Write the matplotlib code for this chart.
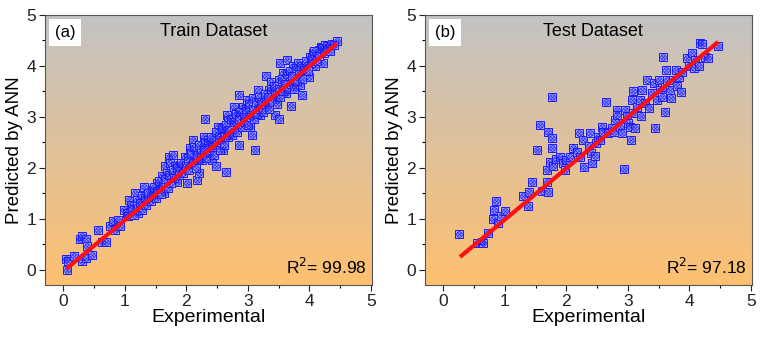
import numpy as np
import matplotlib
matplotlib.use('Agg')
import matplotlib.pyplot as plt
from matplotlib.ticker import MultipleLocator
from matplotlib.colors import LinearSegmentedColormap

plt.rcParams['font.family'] = ['Liberation Sans', 'DejaVu Sans']

# train set: experimental vs predicted
train_exp = [0.05, 0.04, 0.08, 0.17, 0.27, 0.30, 0.37, 0.31, 0.36, 0.39, 0.46, 0.57, 0.62, 0.70,
             0.76, 0.80, 0.84, 0.88, 0.92, 0.98, 1.03, 1.06, 1.10, 1.13, 1.17, 1.19, 1.22, 1.27,
             1.31, 1.36, 1.41, 1.46, 1.52, 1.56, 1.60, 1.63, 1.65, 1.68, 1.71, 1.74, 1.78, 1.81,
             1.84, 1.87, 1.90, 1.94, 1.98, 2.01, 2.03, 2.06, 2.09, 2.11, 2.14, 2.17, 2.20, 2.22,
             2.25, 2.28, 2.30, 2.33, 2.36, 2.39, 2.41, 2.45, 2.49, 2.64, 2.52, 2.55, 2.58, 2.60,
             2.63, 2.66, 2.68, 2.71, 2.74, 2.77, 2.79, 2.82, 2.85, 2.86, 2.88, 2.92, 2.94, 2.98,
             3.01, 3.04, 3.07, 3.12, 3.09, 3.15, 3.17, 3.20, 3.25, 3.30, 3.31, 3.34, 3.37, 3.41,
             3.44, 3.48, 3.51, 3.50, 3.52, 3.55, 3.58, 3.62, 3.64, 3.68, 3.71, 3.74, 3.77, 3.80,
             3.82, 3.85, 3.88, 3.90, 3.95, 3.99, 4.01, 4.06, 4.09, 4.15, 4.19, 4.23, 4.26, 4.31,
             4.37, 4.45,
             1.05, 1.12, 1.15, 1.20, 1.25, 1.28, 1.32, 1.35, 1.38, 1.42, 1.45, 1.48, 1.50, 1.53,
             1.55, 1.58, 1.62, 1.65, 1.70, 1.72, 1.75, 1.78, 1.80, 1.85, 1.88, 1.92, 1.95, 2.00,
             2.02, 2.05, 2.08, 2.10, 2.13, 2.15, 2.18, 2.20, 2.23, 2.25, 2.28, 2.30, 2.32, 2.35,
             2.38, 2.40, 2.43, 2.45, 2.48, 2.50, 2.53, 2.55, 2.58, 2.60, 2.62, 2.65, 2.68, 2.70,
             2.72, 2.75, 2.78, 2.80, 2.83, 2.85, 2.88, 2.90, 2.93, 2.95, 2.97, 3.00, 3.02, 3.05,
             3.08, 3.10, 3.13, 3.15, 3.18, 3.20, 3.22, 3.25, 3.28, 3.30, 3.33, 3.35, 3.38, 3.40,
             3.42, 3.45, 3.47, 3.50, 3.53, 3.55, 3.57, 3.60, 3.63, 3.65, 3.68, 3.70, 3.72, 3.75,
             3.78, 3.80, 3.83, 3.86, 3.88, 3.92, 3.95, 3.98, 4.02, 4.05, 4.08, 4.12, 4.16, 4.20,
             4.24, 4.28, 4.33, 4.40]
train_pred = [0.00, 0.21, 0.17, 0.26, 0.60, 0.67, 0.60, 0.18, 0.23, 0.47, 0.29, 0.78, 0.54, 0.54,
              0.85, 0.95, 0.78, 0.98, 0.85, 1.18, 1.11, 1.37, 1.27, 1.14, 1.50, 1.37, 1.11, 1.44,
              1.63, 1.37, 1.50, 1.57, 1.70, 1.63, 1.83, 1.50, 2.03, 1.90, 2.22, 2.09, 2.25, 2.03,
              1.73, 1.90, 2.06, 1.96, 2.22, 1.70, 2.03, 2.39, 2.16, 2.55, 2.29, 1.76, 1.90, 2.16,
              2.42, 2.61, 2.95, 2.29, 2.42, 2.48, 2.16, 2.61, 2.03, 1.92, 2.81, 2.55, 2.68, 2.35,
              2.75, 3.04, 2.94, 2.65, 2.88, 3.20, 2.75, 3.07, 3.43, 2.45, 2.84, 3.20, 2.97, 3.33,
              3.07, 2.81, 2.65, 2.35, 3.37, 3.20, 3.53, 3.04, 3.33, 3.80, 3.20, 3.53, 3.69, 3.40,
              3.04, 3.33, 2.95, 3.73, 4.05, 3.59, 3.86, 3.46, 4.12, 3.69, 3.22, 3.99, 3.59, 3.79,
              4.05, 3.63, 3.43, 3.89, 4.02, 3.79, 4.18, 4.25, 3.99, 4.31, 4.38, 4.05, 4.41, 4.38,
              4.43, 4.48,
              1.05, 1.20, 1.08, 1.25, 1.30, 1.18, 1.40, 1.28, 1.50, 1.35, 1.45, 1.62, 1.40, 1.55,
              1.75, 1.48, 1.65, 1.78, 1.60, 1.85, 1.70, 1.95, 1.80, 2.00, 1.85, 2.10, 1.90, 2.05,
              2.20, 1.95, 2.30, 2.10, 2.40, 2.00, 2.25, 2.45, 2.30, 2.15, 2.35, 2.50, 2.20, 2.55,
              2.30, 2.60, 2.40, 2.25, 2.70, 2.45, 2.60, 2.35, 2.78, 2.55, 2.45, 2.85, 2.60, 2.75,
              2.95, 2.65, 2.90, 3.05, 2.70, 2.95, 3.10, 2.80, 3.00, 2.90, 3.15, 2.85, 3.25, 3.00,
              3.15, 2.95, 3.30, 3.05, 3.40, 3.15, 3.30, 3.10, 3.45, 3.25, 3.40, 3.15, 3.55, 3.30,
              3.60, 3.45, 3.25, 3.55, 3.40, 3.75, 3.50, 3.65, 3.85, 3.55, 3.90, 3.65, 3.80, 3.55,
              3.95, 3.70, 3.85, 4.00, 3.75, 3.95, 4.10, 3.90, 4.05, 4.15, 4.30, 4.10, 4.20, 4.35,
              4.25, 4.40, 4.30, 4.42]

# test set
test_exp = [0.26, 0.54, 0.62, 0.64, 0.72, 0.81, 0.82, 0.86, 0.89, 0.93, 1.00, 1.30, 1.37, 1.40,
            1.44, 1.53, 1.57, 1.60, 1.68, 1.68, 1.70, 1.70, 1.76, 1.76, 1.77, 1.74, 1.79, 1.83,
            1.90, 1.94, 1.97, 2.00, 2.06, 2.11, 2.17, 2.20, 2.22, 2.27, 2.29, 2.36, 2.38, 2.40,
            2.42, 2.46, 2.48, 2.52, 2.55, 2.58, 2.60, 2.64, 2.67, 2.74, 2.77, 2.79, 2.82, 2.83,
            2.87, 2.91, 2.94, 2.96, 2.98, 3.01, 3.04, 3.05, 3.06, 3.08, 3.09, 3.12, 3.15, 3.19,
            3.21, 3.23, 3.28, 3.31, 3.34, 3.39, 3.42, 3.45, 3.47, 3.50, 3.52, 3.55, 3.58, 3.60,
            3.61, 3.62, 3.63, 3.68, 3.70, 3.74, 3.78, 3.80, 3.83, 3.86, 3.88, 3.96, 3.99, 4.04,
            4.07, 4.09, 4.15, 4.18, 4.20, 4.26, 4.30, 4.47]
test_pred = [0.70, 0.52, 0.54, 0.52, 0.72, 1.00, 1.17, 1.35, 0.92, 1.06, 1.16, 1.44, 1.26, 1.52,
             1.73, 2.35, 2.84, 1.54, 1.95, 1.73, 1.52, 2.71, 3.40, 2.59, 2.39, 2.12, 2.03, 2.17,
             2.22, 2.09, 1.95, 2.16, 2.22, 2.39, 2.32, 2.68, 2.22, 2.55, 2.01, 2.42, 2.68, 2.29,
             2.09, 2.24, 2.48, 2.61, 2.55, 2.81, 2.71, 3.30, 2.68, 2.78, 2.71, 2.94, 3.14, 3.04,
             2.81, 2.68, 1.97, 3.14, 3.01, 2.88, 2.81, 2.54, 3.33, 3.50, 3.07, 2.78, 3.20, 3.33,
             3.01, 3.53, 3.27, 3.73, 3.17, 3.46, 3.66, 2.78, 3.33, 3.73, 3.53, 3.40, 4.18, 3.59,
             3.10, 3.93, 3.73, 3.53, 3.37, 3.73, 3.92, 3.61, 3.79, 3.48, 3.89, 4.15, 3.99, 4.25,
             3.96, 4.12, 4.00, 4.46, 4.44, 4.18, 4.15, 4.39]

# fitted lines as drawn in the figure: slope, intercept, x start, x end
fit_slope = [1.005, 1.005]
fit_icept = [-0.03, -0.02]
fit_xstart = [0.05, 0.27]
fit_xend = [4.45, 4.47]

panels = ['(a)', '(b)']
titles = ['Train Dataset', 'Test Dataset']
r2_values = ['99.98', '97.18']

bg = LinearSegmentedColormap.from_list('bg', ['#fec070', '#c3c3c3'])

fig = plt.figure(figsize=(7.6, 3.37), dpi=100)
lefts = [45 / 760, 425 / 760]
datasets = [(train_exp, train_pred), (test_exp, test_pred)]

for i in range(2):
    ax = fig.add_axes([lefts[i], 52 / 337, 327 / 760, 270 / 337])
    xs = np.array(datasets[i][0])
    ys = np.array(datasets[i][1])

    # gradient background
    grad = np.linspace(0, 1, 256).reshape(-1, 1)
    ax.imshow(grad, cmap=bg, aspect='auto', origin='lower',
              extent=[0, 1, 0, 1], transform=ax.transAxes, zorder=0)

    # markers: square + circle + cross
    ax.plot(xs, ys, 's', ms=5.5, mfc='#a9a9ff', mec='#1a1aff', mew=0.7, ls='none', zorder=2)
    ax.plot(xs, ys, 'o', ms=4.0, mfc='none', mec='#1a1aff', mew=0.6, ls='none', zorder=2)
    ax.plot(xs, ys, 'x', ms=2.5, mec='#1a1aff', mew=0.5, ls='none', zorder=2)

    # linear fit
    xf = np.array([fit_xstart[i], fit_xend[i]])
    ax.plot(xf, fit_slope[i] * xf + fit_icept[i], color='#ff1010', lw=3, zorder=3,
            solid_capstyle='butt')

    ax.set_xlim(-0.3, 5.02)
    ax.set_ylim(-0.3, 5.0)
    ax.xaxis.set_major_locator(MultipleLocator(1))
    ax.yaxis.set_major_locator(MultipleLocator(1))
    ax.xaxis.set_minor_locator(MultipleLocator(0.5))
    ax.yaxis.set_minor_locator(MultipleLocator(0.5))
    ax.tick_params(which='major', direction='out', length=4, width=0.8, labelsize=12.5,
                   colors='#222222', pad=2.5)
    ax.tick_params(which='minor', direction='out', length=2.5, width=0.8)
    for sp in ax.spines.values():
        sp.set_color('#555555')
        sp.set_linewidth(0.8)

    ax.set_xlabel('Experimental', fontsize=14, labelpad=0)
    ax.set_ylabel('Predicted by ANN', fontsize=13.5, labelpad=2)

    ax.text(0.03, 0.962, panels[i], transform=ax.transAxes, fontsize=12, va='top', ha='left',
            bbox=dict(boxstyle='square,pad=0.35', fc='white', ec='none'), zorder=4)
    ax.text(0.515, 0.972, titles[i], transform=ax.transAxes, fontsize=13, va='top', ha='center',
            zorder=4)
    ax.text(0.985, 0.03, 'R$^{2}$= ' + r2_values[i], transform=ax.transAxes, fontsize=12.5,
            ha='right', va='bottom', zorder=4)

fig.savefig('out.png', dpi=100)
